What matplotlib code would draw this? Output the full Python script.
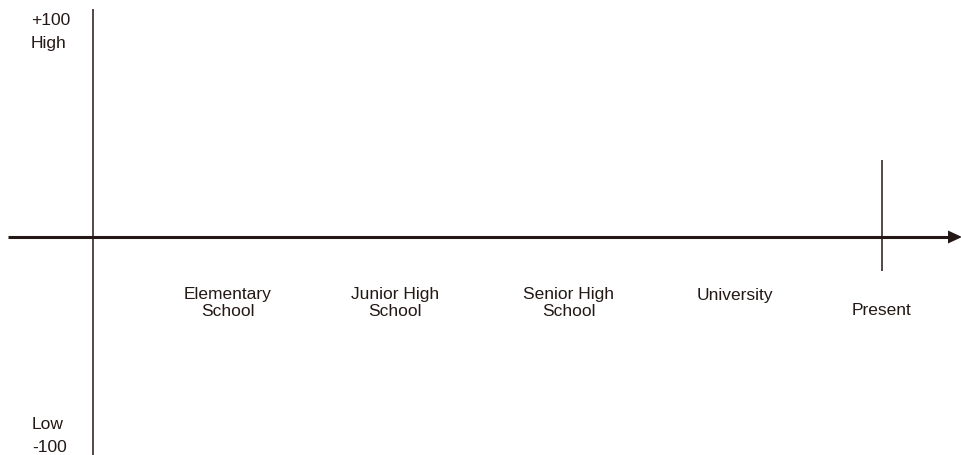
import matplotlib
matplotlib.use("Agg")
import matplotlib.pyplot as plt

plt.rcParams['font.family'] = ['Liberation Sans', 'DejaVu Sans']

ink = '#231815'

# life stages along the time axis (x position, label)
stages = ['Elementary\nSchool', 'Junior High\nSchool', 'Senior High\nSchool', 'University']
stage_x = [228, 395, 569, 735]
stage_y = [-65, -65, -65, -58]
present_x = 882
present_label = 'Present'

# y axis labels
top_labels = ['+100', 'High']
top_y = [218, 195]
bottom_labels = ['Low', '-100']
bottom_y = [-187, -210]

fig = plt.figure(figsize=(9.62, 4.56), dpi=100)
ax = fig.add_axes([0, 0, 1, 1])
ax.set_xlim(0, 962)
ax.set_ylim(-218, 238)
ax.axis('off')

# vertical (feeling) axis
ax.plot([93, 93], [228, -218], color=ink, lw=1.1, solid_capstyle='butt')

# horizontal (time) axis with arrow head
ax.plot([8, 950], [0, 0], color=ink, lw=2.2, solid_capstyle='butt')
ax.fill([948, 962, 948], [6.5, 0, -6.5], color=ink, lw=0)

# present marker
ax.plot([present_x, present_x], [77, -34], color=ink, lw=1.1, solid_capstyle='butt')

fs = 12.5
for lab, x, y in zip(stages, stage_x, stage_y):
    ax.text(x, y, lab, ha='center', va='center', fontsize=fs, color=ink, linespacing=1.18)
ax.text(present_x, -73, present_label, ha='center', va='center', fontsize=fs, color=ink)

for lab, y in zip(top_labels, top_y):
    ax.text(31, y, lab, ha='left', va='center', fontsize=fs, color=ink)
for lab, y in zip(bottom_labels, bottom_y):
    ax.text(32, y, lab, ha='left', va='center', fontsize=fs, color=ink)

fig.savefig('out.png', dpi=100, facecolor='white')
